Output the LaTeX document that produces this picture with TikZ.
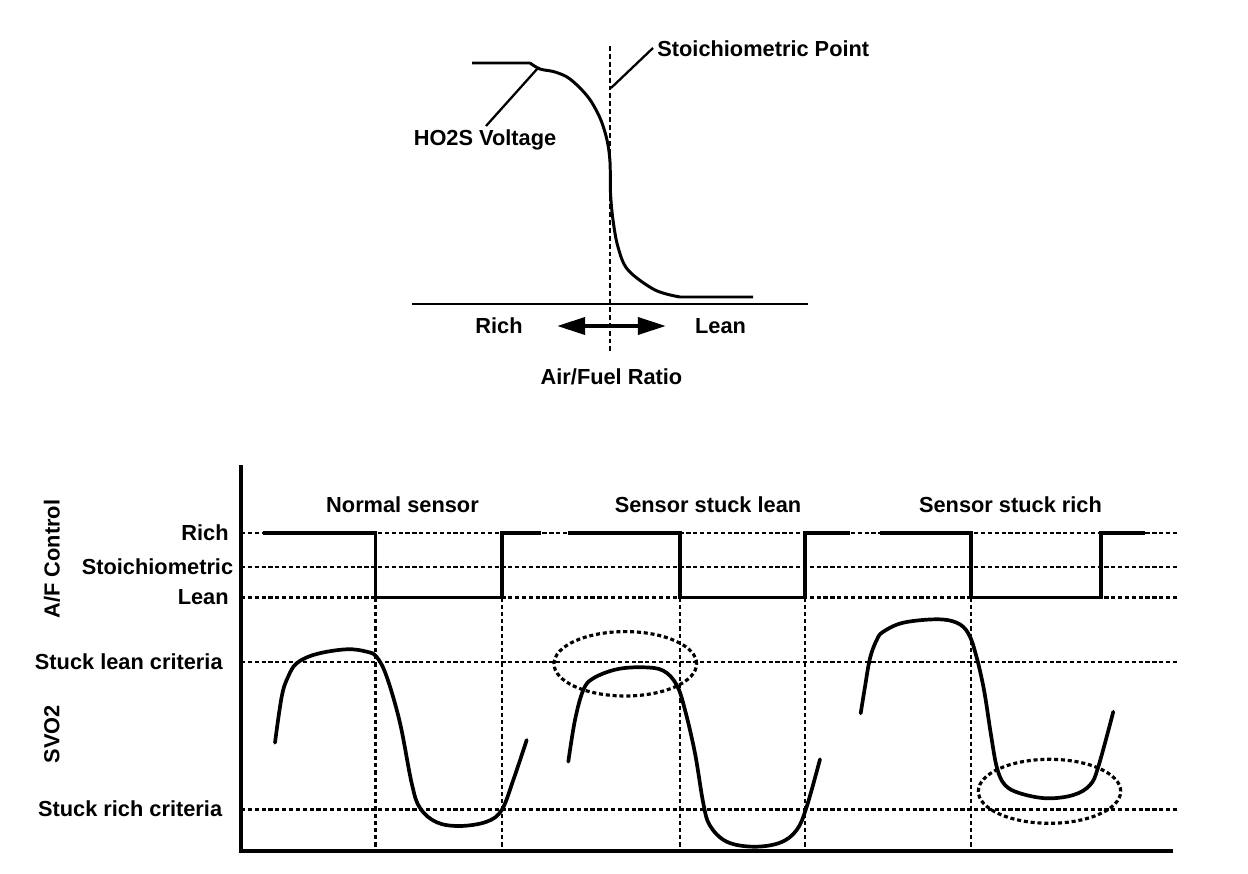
\documentclass[tikz,border=0pt]{standalone}
\usepackage{fontspec}
\setmainfont{Liberation Sans}
\usetikzlibrary{arrows.meta}
\begin{document}
\begin{tikzpicture}[x=0.02cm,y=-0.02cm,
  lbl/.style={font=\fontsize{12.4pt}{14pt}\selectfont\bfseries, inner sep=0pt},
  curve/.style={line width=2.1pt, line join=round, line cap=round},
  topcurve/.style={line width=1.7pt, line join=round},
  leader/.style={line width=1.3pt},
  axisline/.style={line width=1.8pt},
  grid/.style={line width=1.35pt, dash pattern=on 2.4pt off 1.5pt},
  vgrid/.style={line width=1.35pt, dash pattern=on 2.4pt off 1.7pt},
  wave/.style={line width=1.9pt, line join=miter},
  oval/.style={line width=1.8pt, dash pattern=on 2.3pt off 1.6pt},
  stoichline/.style={line width=1.5pt, dash pattern=on 2.8pt off 1.7pt}]
\useasboundingbox (0,0) rectangle (1248,874);

% ---------- top diagram ----------
\draw[stoichline] (610,46) -- (610,353);
\draw[axisline, line width=1.3pt] (412,304) -- (808,304);
\draw[topcurve] (472,63) -- (530,63)
  plot[smooth, tension=0.55] coordinates {(530,63) (540,69) (555,72) (570,79) (588,97) (600,118) (607,140) (610,162) (610.5,193) (613,220) (618,247) (628,270) (655,290) (680,297)}
  -- (753,297);
\coordinate (hoA) at (538,68);
\coordinate (hoB) at (486,126);
\coordinate (stA) at (653,48);
\coordinate (stB) at (611,88);
\draw[leader] (hoA) -- (hoB);
\draw[leader] (stA) -- (stB);
\node[lbl] (ho2s) at (485,140) {HO2S Voltage};
\node[lbl, anchor=west] (stoichpt) at (657,49) {Stoichiometric Point};
\node[lbl] (richT) at (499,326) {Rich};
\node[lbl] (leanT) at (720.5,326) {Lean};
\node[lbl] (afr) at (611.5,377) {Air/Fuel Ratio};
\coordinate (arL) at (557,326);
\coordinate (arR) at (666,326);
\draw[line width=2.4pt, {Triangle[length=16pt,width=9.6pt]}-{Triangle[length=16pt,width=9.6pt]}] (arL) -- (arR);

% ---------- bottom diagram ----------
% grid lines
\foreach \yy in {533,567,597.5,661.7,809.5}
  \draw[grid] (241,\yy) -- (1178,\yy);
\foreach \xx in {375.5,502,680,805,971}
  \draw[vgrid] (\xx,597.5) -- (\xx,851);
% axes
\draw[axisline] (241,465) -- (241,851) -- (1173,851);
% square waves
\draw[wave] (263,533) -- (375.5,533) -- (375.5,597.5) -- (502,597.5) -- (502,533) -- (541,533);
\draw[wave] (568,533) -- (680,533) -- (680,597.5) -- (805,597.5) -- (805,533) -- (850,533);
\draw[wave] (880,533) -- (971,533) -- (971,597.5) -- (1101,597.5) -- (1101,533) -- (1145,533);
% labels
\node[lbl, anchor=east] (rich) at (229,533) {Rich};
\node[lbl, anchor=east] (stoich) at (233.5,567) {Stoichiometric};
\node[lbl, anchor=east] (lean) at (229,597.5) {Lean};
\node[lbl, anchor=east] (slc) at (223,661.7) {Stuck lean criteria};
\node[lbl, anchor=east] (src) at (222.5,809) {Stuck rich criteria};
\node[lbl, rotate=90] (afc) at (52,559) {A/F Control};
\node[lbl, rotate=90] (svo2) at (52,734) {SVO2};
\node[lbl] (normal) at (402.5,505) {Normal sensor};
\node[lbl] (sslean) at (708,505) {Sensor stuck lean};
\node[lbl] (ssrich) at (1010.5,505) {Sensor stuck rich};
% SVO2 curves
\draw[curve] plot[smooth, tension=0.6] coordinates {(275,742.7) (281.7,696.7) (288,677) (297,663) (316.7,654) (346.7,649.3) (366.7,651.7) (376.7,657) (386.7,676.7) (400,723) (411.7,783.3) (420,808) (436.7,822.3) (460,826) (486.7,821.7) (501.7,810) (513.3,780) (526.7,740)};
\draw[curve] plot[smooth, tension=0.6] coordinates {(568.3,761.7) (575,720) (583.3,690) (593.3,678.3) (616.7,669.3) (643.3,667.3) (663.3,670.7) (676.7,685) (685,710) (695,753.3) (703.3,803.3) (710,825.7) (726.7,841.7) (753.3,846.7) (780,842.7) (796.7,830) (806.7,806.7) (820,759.3)};
\draw[curve] plot[smooth, tension=0.6] coordinates {(860.7,713.3) (865,686.7) (870,658.3) (876.7,640) (883.3,631.7) (903.3,622.7) (936.7,619.3) (956.7,622.7) (968.3,633.3) (976,655) (984,690) (991,735) (997,768) (1005,785) (1020,793.3) (1046.7,798.3) (1073.3,795) (1090,785) (1098.3,766.7) (1113.3,711.7)};
% dotted ovals
\draw[oval] (625.3,663.8) ellipse [x radius=1.426cm, y radius=0.644cm];
\draw[oval] (1049.5,791.3) ellipse [x radius=1.424cm, y radius=0.64cm];
\end{tikzpicture}
\end{document}
